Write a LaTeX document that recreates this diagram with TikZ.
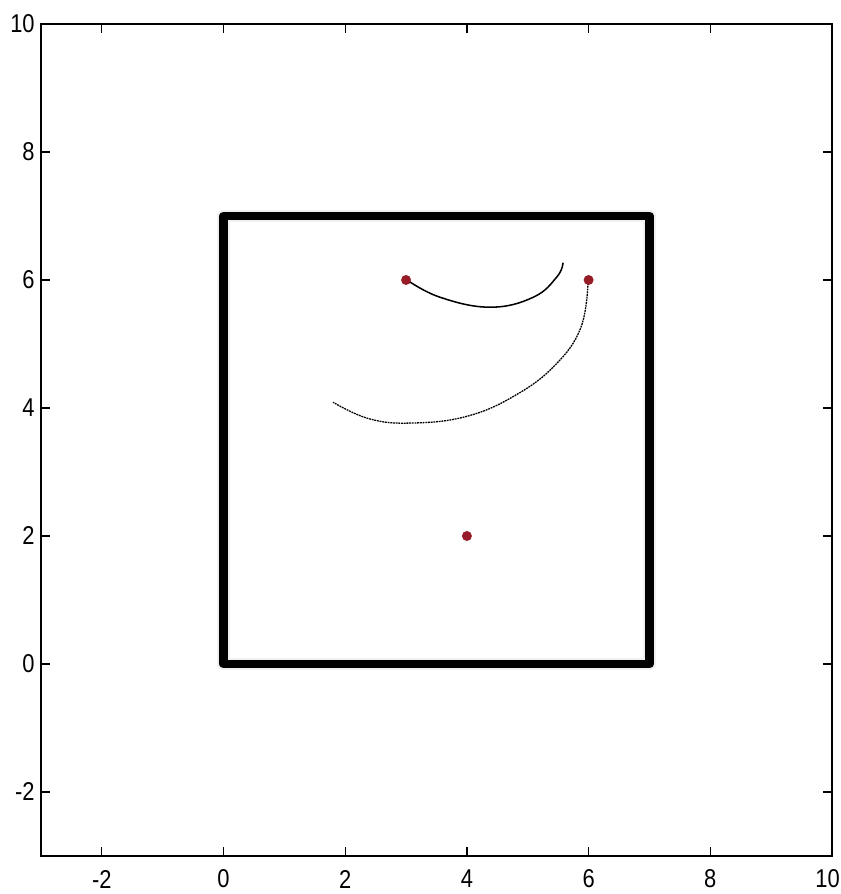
\documentclass[tikz,border=0pt]{standalone}
\usepackage{fontspec}
\setmainfont{Liberation Sans}
\definecolor{dotred}{RGB}{150,28,40}
\begin{document}
\begin{tikzpicture}[x=1.8255cm,y=1.92cm,
  frame/.style={line width=1.3pt,black},
  tickmark/.style={line width=1.1pt,black},
  ticklabel/.style={font=\fontsize{22}{22}\selectfont,inner sep=0pt,xscale=0.85},
  wall/.style={line width=7.2pt,black,line join=round},
  halo/.style={line width=11pt,black!6,line join=round},
  target/.style={circle,fill=dotred,inner sep=0pt,minimum size=0.3cm},
  pathA/.style={line width=1.3pt,black},
  pathB/.style={line width=1.1pt,black,dash pattern=on 1.6pt off 0.7pt}]
\useasboundingbox (-3.673,-3.594) rectangle (10.147,10.375);
% axes frame
\draw[frame] (-3,-3) rectangle (10,10);
\foreach \v in {-2,0,2,4,6,8,10}{
  \draw[tickmark] (\v,-3) -- ++(0,0.28cm);
  \draw[tickmark] (\v,10) -- ++(0,-0.28cm);
  \draw[tickmark] (-3,\v) -- ++(0.28cm,0);
  \draw[tickmark] (10,\v) -- ++(-0.28cm,0);
  \node[ticklabel,anchor=east] (yl\v) at (-3.1,\v) {\v};
}
\foreach \v in {-2,0,2,4,6,8}{
  \node[ticklabel] (xl\v) at (\v,-3.36) {\v};
}
\node[ticklabel,anchor=east] (xl10) at (10.13,-3.36) {10};
% square wall
\draw[halo] (0,0) rectangle (7,7);
\draw[wall] (0,0) rectangle (7,7);
% paths
\draw[pathA] plot[smooth,tension=0.7] coordinates {(3.016,6.0) (3.56,5.73) (4.38,5.575) (5.09,5.73) (5.48,6.05) (5.58,6.27)};
\draw[pathB] plot[smooth,tension=0.7] coordinates {(5.99,5.95) (5.87,5.25) (5.45,4.67) (4.8,4.2) (4.0,3.87) (3.1,3.765) (2.4,3.83) (1.80,4.09)};
% points
\node[target] (p1) at (3,6) {};
\node[target] (p2) at (6,6) {};
\node[target] (p3) at (4,2) {};
\end{tikzpicture}
\end{document}
